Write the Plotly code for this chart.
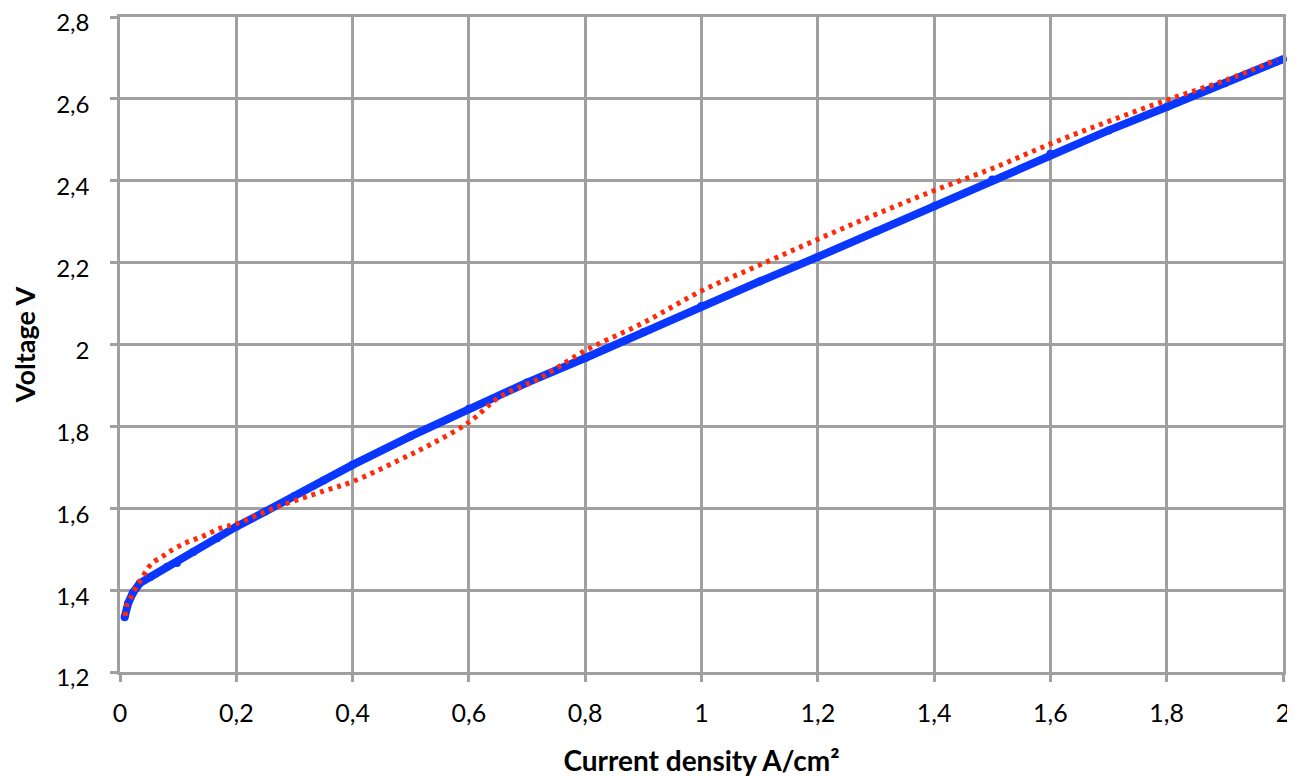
import plotly.graph_objects as go

# Measured curve (blue)
meas_x = [0.008, 0.014, 0.022, 0.034, 0.052, 0.081, 0.098, 0.126, 0.167, 0.2, 0.25, 0.3, 0.35,
          0.4, 0.5, 0.6, 0.7, 0.8, 0.9, 1.0, 1.1, 1.2, 1.3, 1.4, 1.5, 1.6, 1.7, 1.8, 1.9, 2.0]
meas_y = [1.334, 1.368, 1.393, 1.417, 1.432, 1.457, 1.466, 1.493, 1.527, 1.555, 1.592, 1.630, 1.668,
          1.706, 1.776, 1.843, 1.907, 1.967, 2.030, 2.094, 2.154, 2.214, 2.276, 2.338, 2.403, 2.466,
          2.523, 2.580, 2.638, 2.697]

# Model curve (red dotted)
model_x = [0.009, 0.012, 0.021, 0.028, 0.038, 0.048, 0.058, 0.072, 0.084, 0.112, 0.143, 0.174, 0.2,
           0.27, 0.35, 0.4, 0.476, 0.533, 0.6, 0.653, 0.722, 0.8, 0.9, 1.0, 1.1, 1.2, 1.3, 1.4, 1.5,
           1.6, 1.7, 1.8, 1.9, 1.99]
model_y = [1.337, 1.364, 1.388, 1.408, 1.430, 1.454, 1.469, 1.481, 1.493, 1.515, 1.532, 1.552, 1.562,
           1.603, 1.642, 1.665, 1.715, 1.755, 1.810, 1.872, 1.918, 1.985, 2.053, 2.131, 2.194, 2.257,
           2.318, 2.376, 2.430, 2.490, 2.545, 2.597, 2.645, 2.696]

x_ticks = [0, 0.2, 0.4, 0.6, 0.8, 1.0, 1.2, 1.4, 1.6, 1.8, 2.0]
y_ticks = [1.2, 1.4, 1.6, 1.8, 2.0, 2.2, 2.4, 2.6, 2.8]

fig = go.Figure()
fig.add_trace(go.Scatter(x=meas_x, y=meas_y, mode="lines+markers",
                         line=dict(color="#0a37ff", width=8),
                         marker=dict(color="#0a37ff", size=8),
                         showlegend=False, cliponaxis=False))
fig.add_trace(go.Scatter(x=model_x, y=model_y, mode="lines", line_shape="spline",
                         line=dict(color="#ff2a0a", width=5, dash="4px,5px"),
                         showlegend=False))

font_family = "Lato, 'Open Sans', sans-serif"
axis_common = dict(showgrid=True, gridcolor="#a0a0a0", gridwidth=2.5,
                   showline=True, linecolor="#a0a0a0", linewidth=2.5, mirror=True,
                   ticks="outside", ticklen=7, tickwidth=2.5, tickcolor="#a0a0a0",
                   tickfont=dict(size=25, color="black", family=font_family),
                   ticklabeloverflow="allow",
                   zeroline=False, automargin=False)

fig.update_layout(
    width=1287, height=770,
    margin=dict(l=112, r=12, t=9, b=106),
    paper_bgcolor="white", plot_bgcolor="white",
    separators=", ",
    xaxis=dict(range=[0, 2], tickvals=x_ticks, ticktext=[f"{v:g}".replace(".", ",") for v in x_ticks],
               ticklabelstandoff=10,
               title=dict(text="Current density A/cm²", standoff=26,
                          font=dict(size=28, color="black", family=font_family, weight="bold")),
               **axis_common),
    yaxis=dict(range=[1.2, 2.8], tickvals=y_ticks, ticktext=[f"{v:g}".replace(".", ",") for v in y_ticks],
               ticklabelstandoff=16, ticklabelshift=6,
               title=dict(text="Voltage V", standoff=20,
                          font=dict(size=27, color="black", family=font_family, weight="bold")),
               **axis_common),
)
fig.update_yaxes(tickfont=dict(size=24, color="black", family=font_family))

fig.write_html("out.html")
